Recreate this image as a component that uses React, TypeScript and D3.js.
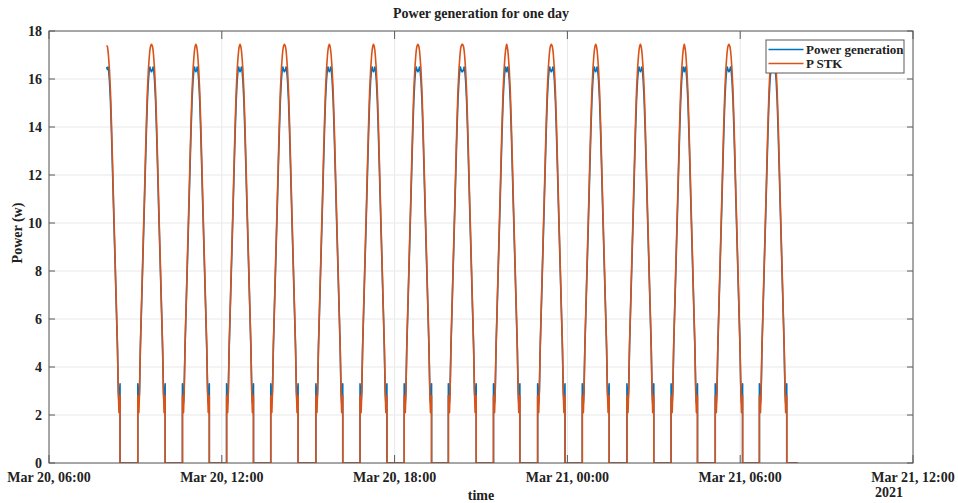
import React from "react";
import * as d3 from "d3";

const W = 958;
const H = 503;
const PLOT = { left: 49, right: 913, top: 31, bottom: 463 };

const FONT = "'Liberation Serif', 'Times New Roman', serif";
const BLUE = "#0072BD";
const ORANGE = "#D95319";

const parse = d3.utcParse("%Y-%m-%d %H:%M");

// Time window of the axis and of the recorded samples
const AXIS_START = "2021-03-20 06:00";
const AXIS_END = "2021-03-21 12:00";
const DATA_START = "2021-03-20 08:00";
const DATA_END = "2021-03-21 08:00";

// Eclipse exits (start of each sunlit arc); the first one lies before the record starts
const SUNRISE = [
  "2021-03-20 07:31",
  "2021-03-20 09:05",
  "2021-03-20 10:38",
  "2021-03-20 12:10",
  "2021-03-20 13:42",
  "2021-03-20 15:16",
  "2021-03-20 16:48",
  "2021-03-20 18:20",
  "2021-03-20 19:52",
  "2021-03-20 21:26",
  "2021-03-20 22:58",
  "2021-03-21 00:31",
  "2021-03-21 02:04",
  "2021-03-21 03:36",
  "2021-03-21 05:08",
  "2021-03-21 06:40",
];

// Eclipse entries (end of each sunlit arc)
const SUNSET = [
  "2021-03-20 08:28",
  "2021-03-20 10:02",
  "2021-03-20 11:34",
  "2021-03-20 13:06",
  "2021-03-20 14:39",
  "2021-03-20 16:12",
  "2021-03-20 17:44",
  "2021-03-20 19:17",
  "2021-03-20 20:50",
  "2021-03-20 22:21",
  "2021-03-20 23:55",
  "2021-03-21 01:27",
  "2021-03-21 03:00",
  "2021-03-21 04:31",
  "2021-03-21 06:05",
  "2021-03-21 07:37",
];

// Power over a sunlit arc, by minutes from the nearest eclipse edge (symmetric)
const ARC_MINUTES = [0, 2.3, 3.6, 5.4, 7.5, 9.6, 11.7, 13.8, 15.8, 17.9, 20, 22.1, 24.2, 25.2, 26.3, 28.3];
const ARC_PSTK = [2.8, 2.1, 3.0, 4.9, 6.45, 8.0, 9.55, 11.1, 12.65, 14.2, 15.5, 16.4, 17.0, 17.2, 17.35, 17.45];
const ARC_GEN = [3.3, 2.5, 3.0, 4.8, 6.3, 7.8, 9.3, 10.8, 12.3, 13.8, 15.1, 15.95, 16.45, 16.5, 16.4, 16.3];

// First recorded sample (power generation, P STK)
const START_VALUES = [16.5, 17.4];

const Y_TICKS = [0, 2, 4, 6, 8, 10, 12, 14, 16, 18];

type Pt = { t: Date; gen: number; stk: number };

function buildSeries(): Pt[] {
  const start = parse(DATA_START)!;
  const end = parse(DATA_END)!;
  const pts: Pt[] = [];
  const addMin = (d: Date, m: number) => new Date(d.getTime() + m * 60000);
  SUNRISE.forEach((r, i) => {
    const rise = parse(r)!;
    const set = parse(SUNSET[i])!;
    const mid = new Date((rise.getTime() + set.getTime()) / 2);
    pts.push({ t: rise, gen: 0, stk: 0 });
    ARC_MINUTES.forEach((m, k) => {
      const t = addMin(rise, m);
      if (t < mid) pts.push({ t, gen: ARC_GEN[k], stk: ARC_PSTK[k] });
    });
    const last = ARC_MINUTES.length - 1;
    pts.push({ t: mid, gen: ARC_GEN[last], stk: ARC_PSTK[last] });
    for (let k = last; k >= 0; k--) {
      const t = addMin(set, -ARC_MINUTES[k]);
      if (t > mid) pts.push({ t, gen: ARC_GEN[k], stk: ARC_PSTK[k] });
    }
    pts.push({ t: set, gen: 0, stk: 0 });
  });
  pts.push({ t: end, gen: 0, stk: 0 });
  const kept = pts.filter((p) => p.t > start);
  return [{ t: start, gen: START_VALUES[0], stk: START_VALUES[1] }, ...kept];
}

export default function App() {
  const x = d3
    .scaleUtc()
    .domain([parse(AXIS_START)!, parse(AXIS_END)!])
    .range([PLOT.left, PLOT.right]);
  const y = d3.scaleLinear().domain([0, 18]).range([PLOT.bottom, PLOT.top]);

  const series = buildSeries();
  const genLine = d3
    .line<Pt>()
    .x((d) => x(d.t))
    .y((d) => y(d.gen));
  const stkLine = d3
    .line<Pt>()
    .x((d) => x(d.t))
    .y((d) => y(d.stk));

  const xTicks = x.ticks(d3.utcHour.every(6)!);
  const fmt = d3.utcFormat("%b %d, %H:%M");
  const axisColor = "#5a5a5a";
  const gridColor = "#e8e8e8";
  const textColor = "#222";

  return (
    <svg
      width={W}
      height={H}
      style={{ position: "absolute", left: 0, top: 0, display: "block", background: "#fff" }}
      fontFamily={FONT}
    >
      <defs>
        <clipPath id="plot-clip">
          <rect x={PLOT.left} y={PLOT.top} width={PLOT.right - PLOT.left} height={PLOT.bottom - PLOT.top} />
        </clipPath>
      </defs>

      {/* grid */}
      {Y_TICKS.map((v) => (
        <line key={"gy" + v} x1={PLOT.left} x2={PLOT.right} y1={y(v)} y2={y(v)} stroke={gridColor} strokeWidth={1} />
      ))}
      {xTicks.map((t, i) => (
        <line key={"gx" + i} x1={x(t)} x2={x(t)} y1={PLOT.top} y2={PLOT.bottom} stroke={gridColor} strokeWidth={1} />
      ))}

      {/* series */}
      <g clipPath="url(#plot-clip)" fill="none" strokeLinejoin="round">
        <path d={genLine(series)!} stroke={BLUE} strokeWidth={1.6} />
        <path d={stkLine(series)!} stroke={ORANGE} strokeWidth={1.6} />
      </g>

      {/* axes box and inward ticks */}
      <rect
        x={PLOT.left}
        y={PLOT.top}
        width={PLOT.right - PLOT.left}
        height={PLOT.bottom - PLOT.top}
        fill="none"
        stroke={axisColor}
        strokeWidth={1}
      />
      {Y_TICKS.map((v) => (
        <g key={"ty" + v}>
          <line x1={PLOT.left} x2={PLOT.left + 6} y1={y(v)} y2={y(v)} stroke={axisColor} />
          <line x1={PLOT.right} x2={PLOT.right - 6} y1={y(v)} y2={y(v)} stroke={axisColor} />
          <text
            x={PLOT.left - 7}
            y={y(v)}
            dy="0.35em"
            textAnchor="end"
            fontSize={14}
            fontWeight="bold"
            fill={textColor}
          >
            {v}
          </text>
        </g>
      ))}
      {xTicks.map((t, i) => (
        <g key={"tx" + i}>
          <line x1={x(t)} x2={x(t)} y1={PLOT.bottom} y2={PLOT.bottom - 8} stroke={axisColor} />
          <line x1={x(t)} x2={x(t)} y1={PLOT.top} y2={PLOT.top + 8} stroke={axisColor} />
          <text x={x(t)} y={481.5} textAnchor="middle" fontSize={14} fontWeight="bold" fill={textColor}>
            {fmt(t)}
          </text>
        </g>
      ))}
      <text x={889} y={497} textAnchor="middle" fontSize={14} fontWeight="bold" fill={textColor}>
        2021
      </text>

      {/* labels */}
      <text x={481} y={500} textAnchor="middle" fontSize={14} fontWeight="bold" fill={textColor}>
        time
      </text>
      <text
        transform={`translate(22, ${(PLOT.top + PLOT.bottom) / 2 - 14}) rotate(-90)`}
        textAnchor="middle"
        fontSize={14}
        fontWeight="bold"
        fill={textColor}
      >
        Power (w)
      </text>
      <text x={481} y={18} textAnchor="middle" fontSize={14} fontWeight="bold" fill={textColor}>
        Power generation for one day
      </text>

      {/* legend */}
      <g>
        <rect x={766} y={40} width={138} height={33} fill="#fff" stroke={axisColor} strokeWidth={1} />
        <line x1={768.5} x2={803.5} y1={49.5} y2={49.5} stroke={BLUE} strokeWidth={1.6} />
        <line x1={768.5} x2={803.5} y1={63.5} y2={63.5} stroke={ORANGE} strokeWidth={1.6} />
        <text x={806} y={53.8} fontSize={13} fontWeight="bold" fill={textColor}>
          Power generation
        </text>
        <text x={806} y={67.8} fontSize={13} fontWeight="bold" fill={textColor}>
          P STK
        </text>
      </g>
    </svg>
  );
}
